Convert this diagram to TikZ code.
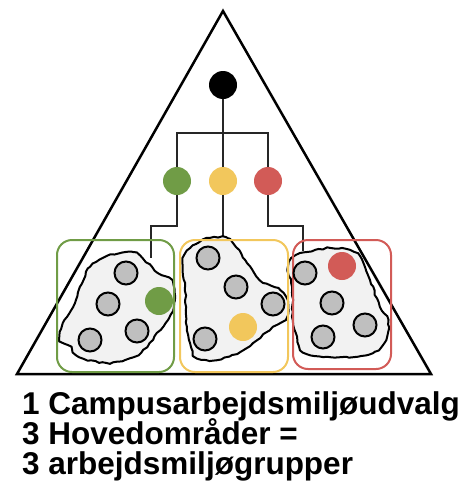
\documentclass[tikz,border=0pt]{standalone}
\usepackage{fontspec}
\setmainfont{Liberation Sans}
\usetikzlibrary{positioning}
\usetikzlibrary{decorations.pathmorphing}

\definecolor{grpgreen}{HTML}{709C46}
\definecolor{grpyellow}{HTML}{F2C75C}
\definecolor{grpred}{HTML}{D25B57}
\definecolor{memgray}{HTML}{BFBFBF}
\definecolor{blobgray}{HTML}{F2F2F2}

\tikzset{
  dot/.style={circle,inner sep=0pt,minimum size=28pt},
  member/.style={circle,draw=black,line width=2pt,fill=memgray,
    inner sep=0pt,minimum size=23pt},
  wire/.style={draw=black!85,line width=1.5pt},
  groupbox/.style={rounded corners=15pt,line width=2pt},
  blob/.style={draw=black,fill=blobgray,line width=2pt,line join=round,
    decorate,decoration={random steps,segment length=4pt,amplitude=0.8pt}},
  caption/.style={anchor=base west,inner sep=0pt,
    font=\fontsize{31.5}{30}\selectfont\bfseries},
}

\begin{document}
\begin{tikzpicture}[x=1pt,y=-1pt]
  \pgfmathsetseed{7}
  \useasboundingbox (0,0) rectangle (466,498);

  % the triangle
  \draw[line width=2.5pt,line join=miter] (223,11) -- (431,374) -- (17,374) -- cycle;

  % committee and the three main areas
  \node[dot,fill=black]     (top) at (223,85)  {};
  \node[dot,fill=grpgreen]  (c_g) at (177,181) {};
  \node[dot,fill=grpyellow] (c_y) at (223,181) {};
  \node[dot,fill=grpred]    (c_r) at (268,181) {};

  \coordinate (fork)   at (223,133);
  \coordinate (g_bend) at (177,226);
  \coordinate (g_end)  at (151,258);
  \coordinate (y_end)  at (223,238);
  \coordinate (r_bend) at (268,226);
  \coordinate (r_end)  at (303,251);

  \draw[wire] (top) -- (c_y);
  \draw[wire] (c_g) |- (fork) -| (c_r);
  \draw[wire] (c_g) -- (g_bend) -| (g_end);
  \draw[wire] (c_y) -- (y_end);
  \draw[wire] (c_r) -- (r_bend) -| (r_end);

  % working groups
  \path[blob] plot[smooth cycle,tension=0.6] coordinates {
    (107,256) (133,252) (146,262) (158,273) (172,281) (174,303) (168,320)
    (157,333) (147,347) (133,357) (107,363) (79,357) (71,347) (60,340)
    (63,323) (73,307) (80,287) (90,267)};
  \path[blob] plot[smooth cycle,tension=0.6] coordinates {
    (210,238) (227,238) (236,247) (247,263) (260,280) (280,290) (288,303)
    (287,317) (273,327) (253,343) (240,352) (217,360) (197,358) (190,343)
    (187,327) (185,287) (183,258) (196,244)};
  \path[blob] plot[smooth cycle,tension=0.6] coordinates {
    (293,257) (307,252) (330,248) (350,250) (360,257) (370,280) (380,307)
    (388,320) (386,340) (373,353) (347,357) (323,357) (303,352) (297,337)
    (293,320) (292,287) (288,270)};

  \draw[groupbox,draw=grpgreen]  (57,240)  rectangle (174,372);
  \draw[groupbox,draw=grpyellow] (180,240) rectangle (288,372);
  \draw[groupbox,draw=grpred]    (293,240) rectangle (391,369);

  % members
  \node[member] (g_1) at (126,273) {};
  \node[member] (g_2) at (108,304) {};
  \node[member] (g_3) at (90,340)  {};
  \node[member] (g_4) at (137,331) {};
  \node[dot,fill=grpgreen] (g_rep) at (159,301) {};

  \node[member] (y_1) at (208,258) {};
  \node[member] (y_2) at (236,287) {};
  \node[member] (y_3) at (273,304) {};
  \node[member] (y_4) at (205,339) {};
  \node[dot,fill=grpyellow] (y_rep) at (243,327) {};

  \node[member] (r_1) at (305,273) {};
  \node[member] (r_2) at (332,303) {};
  \node[member] (r_3) at (365,325) {};
  \node[member] (r_4) at (323,337) {};
  \node[dot,fill=grpred] (r_rep) at (342,266) {};

  % caption
  \node[caption] (line1) at (22,414) {1 Campusarbejdsmiljøudvalg};
  \node[caption] (line2) at (22,444) {3 Hovedområder =};
  \node[caption] (line3) at (22,474) {3 arbejdsmiljøgrupper};
\end{tikzpicture}
\end{document}
